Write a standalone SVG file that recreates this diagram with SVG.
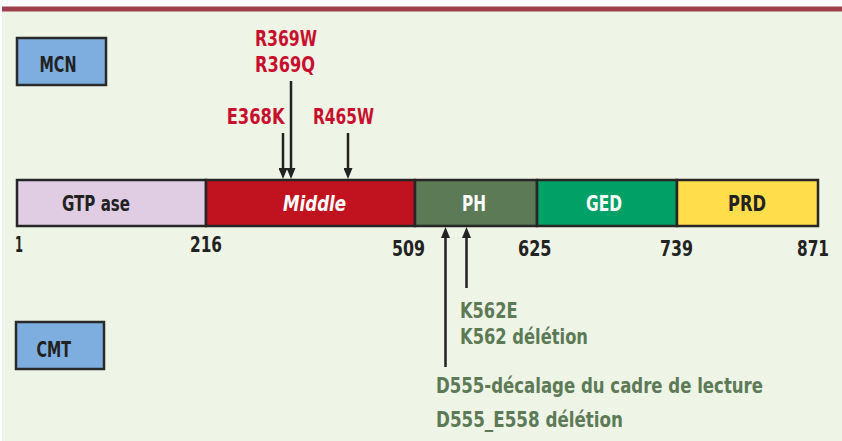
<svg xmlns="http://www.w3.org/2000/svg" width="842" height="441" viewBox="0 0 842 441">
<style>
text{font-family:"DejaVu Sans Condensed","DejaVu Sans","Liberation Sans",sans-serif;font-weight:bold;font-size:21px}
.num{font-size:22px}
.red{fill:#C8102E}
.grn{fill:#5B7A55}
.dk{fill:#222}
.wh{fill:#fff}
.seg{stroke:#262626;stroke-width:2.5}
.box{fill:#7DAEDF;stroke:#2a2a2a;stroke-width:2.5}
.arr{stroke:#222;stroke-width:2.5;fill:none}
</style>
<defs>
<marker id="ah" viewBox="0 0 11 9" markerUnits="userSpaceOnUse" markerWidth="11" markerHeight="9" refX="4" refY="4.5" orient="auto">
<path d="M0,0 L11,4.5 L0,9 z" fill="#222"/>
</marker>
</defs>
<rect x="0" y="0" width="842" height="441" fill="#fff"/>
<rect x="2" y="11" width="840" height="430" fill="#EEF4E6"/>
<rect x="2" y="6.5" width="840" height="5" fill="#9E3F4C"/>

<g id="mcn"><rect class="box" x="17" y="38" width="89" height="47"/><text class="dk" x="39.5" y="71.5" textLength="37" lengthAdjust="spacingAndGlyphs">MCN</text></g>
<g id="cmt"><rect class="box" x="16" y="322" width="88" height="47"/><text class="dk" x="36.5" y="356.5" textLength="34.5" lengthAdjust="spacingAndGlyphs">CMT</text></g>

<g id="gtpase"><rect class="seg" x="17" y="180" width="189" height="46" fill="#E0CDE3"/><text class="dk" x="62" y="211" textLength="68" lengthAdjust="spacingAndGlyphs">GTP ase</text></g>
<g id="middle"><rect class="seg" x="206" y="180" width="209" height="46" fill="#C1121F"/><text class="wh" x="283" y="211" font-style="italic" textLength="63" lengthAdjust="spacingAndGlyphs">Middle</text></g>
<g id="ph"><rect class="seg" x="415" y="180" width="122" height="46" fill="#5B7A55"/><text class="wh" x="462" y="211" textLength="24" lengthAdjust="spacingAndGlyphs">PH</text></g>
<g id="ged"><rect class="seg" x="537" y="180" width="140" height="46" fill="#00A066"/><text class="wh" x="586" y="211" textLength="36" lengthAdjust="spacingAndGlyphs">GED</text></g>
<g id="prd"><rect class="seg" x="677" y="180" width="141" height="46" fill="#FFDD4B"/><text class="dk" x="728" y="211" textLength="38" lengthAdjust="spacingAndGlyphs">PRD</text></g>

<g id="numbers">
<text class="dk num" x="15" y="252" textLength="8" lengthAdjust="spacingAndGlyphs">1</text>
<text class="dk num" x="190" y="252" textLength="32" lengthAdjust="spacingAndGlyphs">216</text>
<text class="dk num" x="392" y="256" textLength="33" lengthAdjust="spacingAndGlyphs">509</text>
<text class="dk num" x="518" y="256" textLength="33.5" lengthAdjust="spacingAndGlyphs">625</text>
<text class="dk num" x="660" y="256" textLength="33" lengthAdjust="spacingAndGlyphs">739</text>
<text class="dk num" x="797" y="256" textLength="32" lengthAdjust="spacingAndGlyphs">871</text>
</g>

<g id="mcn-labels">
<text class="red" x="255" y="46" textLength="62" lengthAdjust="spacingAndGlyphs">R369W</text>
<text class="red" x="255" y="72.3" textLength="60" lengthAdjust="spacingAndGlyphs">R369Q</text>
<text class="red" x="226.7" y="124.3" textLength="58" lengthAdjust="spacingAndGlyphs">E368K</text>
<text class="red" x="313" y="124.3" textLength="61" lengthAdjust="spacingAndGlyphs">R465W</text>
</g>

<g id="cmt-labels">
<text class="grn" x="460" y="318.3" textLength="57.5" lengthAdjust="spacingAndGlyphs">K562E</text>
<text class="grn" x="460" y="344" textLength="128" lengthAdjust="spacingAndGlyphs">K562 délétion</text>
<text class="grn" x="436" y="393.3" textLength="327" lengthAdjust="spacingAndGlyphs">D555-décalage du cadre de lecture</text>
<text class="grn" x="436" y="426.7" textLength="187" lengthAdjust="spacingAndGlyphs">D555_E558 délétion</text>
</g>

<g id="connectors">
<line class="arr" x1="283" y1="133" x2="283" y2="172" marker-end="url(#ah)"/>
<line class="arr" x1="291" y1="81" x2="291" y2="172" marker-end="url(#ah)"/>
<line class="arr" x1="348" y1="133" x2="348" y2="172" marker-end="url(#ah)"/>
<line class="arr" x1="445.5" y1="367" x2="445.5" y2="234" marker-end="url(#ah)"/>
<line class="arr" x1="466.5" y1="288" x2="466.5" y2="234" marker-end="url(#ah)"/>
</g>
</svg>
